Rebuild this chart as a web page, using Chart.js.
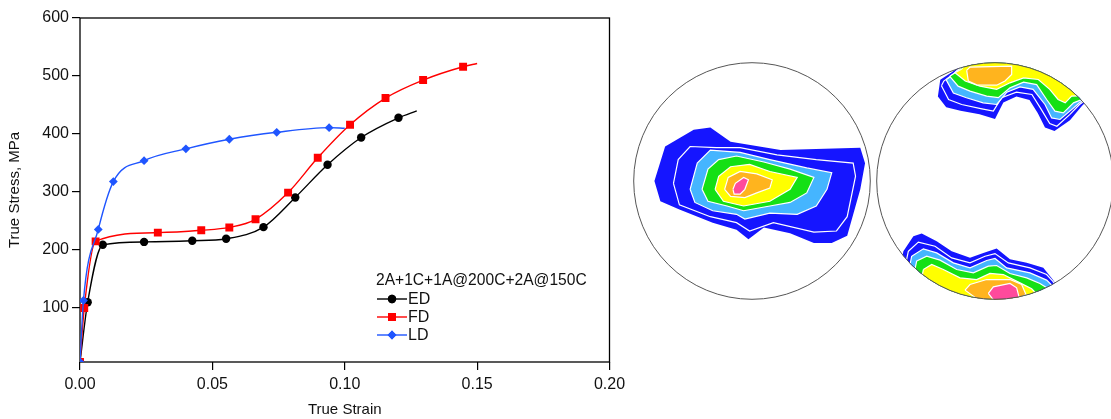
<!DOCTYPE html>
<html>
<head>
<meta charset="utf-8">
<script src="https://cdn.jsdelivr.net/npm/chart.js@4.4.0/dist/chart.umd.min.js"></script>
<style>
  body { margin: 0; width: 1111px; height: 419px; overflow: hidden; background: #fff; position: relative; }
  canvas { position: absolute; }
  #curve { left: 0; top: 0; }
  #pfA { left: 633px; top: 62px; }
  #pfB { left: 876px; top: 62px; }
</style>
</head>
<body>
<canvas id="curve" width="632" height="419"></canvas>
<canvas id="pfA" width="238" height="238"></canvas>
<canvas id="pfB" width="238" height="238"></canvas>
<script>
// stress-strain curves (last point of each = end of curve, no marker)
const edStrain = [0, 0.0029, 0.0086, 0.0242, 0.0424, 0.0552, 0.0693, 0.0813, 0.0935, 0.1062, 0.1203, 0.1272];
const edStress = [7, 110, 209, 214, 216, 219.5, 239.5, 290.7, 347, 394, 428, 440];
const fdStrain = [0, 0.0016, 0.0059, 0.0294, 0.0458, 0.0564, 0.0663, 0.0786, 0.0898, 0.102, 0.1154, 0.1296, 0.1447, 0.15];
const fdStress = [7, 100, 215, 230, 234, 239, 253, 299, 359, 416, 462, 493, 516, 521.5];
const ldStrain = [0, 0.0013, 0.0069, 0.0126, 0.0242, 0.040, 0.0564, 0.0743, 0.0941, 0.1];
const ldStress = [7, 113, 235.5, 318, 354, 374.5, 391, 403, 411, 410];

const seriesNames = ['ED', 'FD', 'LD'];
const legendTitle = '2A+1C+1A@200C+2A@150C';
const xTicks = [0, 0.05, 0.10, 0.15, 0.20];
const yTicks = [100, 200, 300, 400, 500, 600];

// pole figure contour levels, coordinates in % of the projection radius
const levelColors = ['#1515ff', '#1515ff', '#45b5ff', '#15e015', '#ffff00', '#ffb41e', '#ff4a9c'];

const pfA = [
  [[-82,0],[-73,29],[-49,43],[-35,45],[-18,33],[24,26],[91,28],[95,15],[91,-7],[80,-46],[67,-52],[52,-52],[32,-44],[10,-39],[-3,-49],[-13,-41],[-33,-35],[-61,-24],[-77,-17]],
  [[-66,-2],[-62,18],[-52,29],[-30,28],[-10,28],[21,22],[54,18],[85,15],[87,4],[80,-30],[71,-42],[52,-43],[18,-35],[-2,-42],[-13,-35],[-35,-30],[-61,-20]],
  [[-52,-7],[-46,15],[-35,26],[-10,24],[15,18],[46,11],[67,7],[63,-7],[54,-21],[38,-28],[15,-27],[-6,-32],[-13,-28],[-33,-25],[-48,-18]],
  [[-42,-7],[-37,10],[-28,18],[-13,21],[10,16],[32,10],[52,3],[46,-10],[32,-18],[15,-21],[-7,-25],[-21,-21],[-37,-17]],
  [[-31,-7],[-28,4],[-18,12],[-2,14],[15,8],[38,3],[32,-7],[15,-17],[-7,-21],[-24,-17]],
  [[-23,-7],[-20,3],[-10,8],[4,6],[17,1],[15,-6],[4,-10],[-6,-14],[-18,-13]],
  [[-16,-7],[-14,-2],[-7,3],[-3,1],[-6,-7],[-10,-11],[-15,-11]]
];

const pfBTop = [
  [[-48,71],[-41,62],[-29,59],[-13,56],[0,52],[7,66],[18,71],[29,68],[36,57],[42,45],[50,42],[63,51],[73,63],[82,72],[55,95],[15,105],[-21,103],[-36,91.5],[-46,85]],
  [[-45,80],[-39,68.5],[-28,64.3],[-11,60.6],[-1.4,58.7],[5.6,70],[18,74.6],[31,72.7],[39,60],[46,48.3],[52,46],[63,56],[71,64.3],[82,72],[55,95],[15,105],[-21,103],[-35,90],[-43,84]],
  [[-41,85],[-35,74],[-24,70],[-10,65.7],[1.4,64.3],[10,74.6],[21,79],[32,77],[42,64.3],[47.6,53],[54.6,51.7],[64.4,60],[71,65.7],[82,72],[55,95],[15,105],[-21,103],[-34,90.3]],
  [[-38,88],[-31,79.7],[-21,75.5],[-7,71.3],[2.8,70],[12.6,78.3],[24,83],[35,81],[43.4,68.5],[50.4,58.7],[57.4,57.3],[66,65.7],[82,72],[55,95],[15,105],[-21,103],[-32,92]],
  [[-33.6,91],[-25,84],[-12.6,79.7],[1.4,77],[12.6,82.5],[24,86.7],[36.4,85.3],[46,77],[53,68.5],[59,65.7],[64.4,71.3],[82,72],[55,95],[15,105],[-21,103],[-28,94]],
  [[-23.8,93],[-21,95.7],[14,96.5],[14,89.5],[8.4,84],[1.4,80.5],[-15.4,80.8],[-22.4,84]]
];

const pfBBottom = [
  [[-77,-59],[-68.6,-46.4],[-61.6,-44.1],[-49,-50.6],[-36.4,-59],[-21,-64.6],[-9.8,-60.4],[1.4,-56.7],[12.6,-65.8],[26.6,-68.8],[40.6,-73],[48.5,-82.8],[60,-100],[0,-110],[-82,-84]],
  [[-72.8,-59],[-64.4,-51.4],[-50.4,-54.8],[-36.4,-64.6],[-21,-68.8],[-8.4,-63.2],[0,-61],[11.2,-68.8],[29.4,-73],[43.4,-78.6],[48.5,-84.2],[60,-100],[0,-110],[-78,-84]],
  [[-70,-63.2],[-60.2,-57],[-49,-60.4],[-35,-68.8],[-21,-73],[-7,-66.8],[0,-65.1],[9.8,-73],[29.4,-77.2],[43.4,-83.3],[60,-100],[0,-110],[-75,-88]],
  [[-65.8,-67.2],[-57.4,-63.2],[-46.2,-66.5],[-32.2,-74.4],[-18.2,-77.2],[-5.6,-71.6],[1.4,-71],[12.6,-77.7],[26.6,-81.4],[37.8,-86.1],[60,-100],[0,-110],[-71,-92]],
  [[-60.2,-74.4],[-53.2,-70.2],[-43.4,-74.4],[-29.4,-81.4],[-15.4,-82.8],[-4.2,-77.7],[7,-78.6],[21,-85.6],[30.8,-90.6],[45,-105],[0,-110],[-65,-99]],
  [[-25.2,-91.7],[-21,-87],[-7,-82.8],[12.6,-82.8],[22.4,-87],[26,-95.4],[0,-110]],
  [[-5.6,-94.5],[-1.4,-88.9],[12.6,-86.1],[18.2,-89.8],[20.4,-98.2],[5,-108]]
];

const FONT = "'Liberation Sans', Arial, sans-serif";
const colors = ['#000000', '#ff0000', '#1f55ff'];
const styles = ['circle', 'rect', 'rectRot'];
const radii = [4.2, 5.6, 4.4];

function pts(xs, ys) {
  return xs.map((x, i) => ({ x: x, y: ys[i] }));
}

function series(i, xs, ys, order) {
  const n = xs.length;
  return {
    label: seriesNames[i],
    data: pts(xs, ys),
    showLine: true,
    borderColor: colors[i],
    backgroundColor: colors[i],
    borderWidth: 1.4,
    cubicInterpolationMode: 'monotone',
    pointStyle: styles[i],
    pointRadius: c => (c.dataIndex === n - 1 ? 0 : radii[i]),
    pointBorderWidth: 0,
    order: order
  };
}

const framePlugin = {
  id: 'frame',
  beforeDatasetsDraw(chart) {
    const a = chart.chartArea, ctx = chart.ctx;
    ctx.save();
    ctx.strokeStyle = '#000';
    ctx.lineWidth = 1.3;
    ctx.strokeRect(a.left, a.top, a.right - a.left, a.bottom - a.top);
    ctx.restore();
  }
};

const legendPlugin = {
  id: 'boxLegend',
  afterDraw(chart) {
    const ctx = chart.ctx;
    const x0 = 377, y0 = 281, step = 18;
    ctx.save();
    ctx.fillStyle = '#111';
    ctx.textBaseline = 'middle';
    ctx.font = '15.6px ' + FONT;
    ctx.fillText(legendTitle, x0 - 1, y0);
    ctx.font = '16px ' + FONT;
    seriesNames.forEach((name, i) => {
      const y = y0 + step * (i + 1);
      ctx.strokeStyle = colors[i];
      ctx.lineWidth = 1.4;
      ctx.beginPath();
      ctx.moveTo(x0, y);
      ctx.lineTo(x0 + 30, y);
      ctx.stroke();
      ctx.fillStyle = colors[i];
      Chart.helpers.drawPoint(ctx, { pointStyle: styles[i], radius: radii[i], borderWidth: 0, rotation: 0 }, x0 + 15, y);
      ctx.fill();
      ctx.fillStyle = '#111';
      ctx.fillText(name, x0 + 31, y + 0.5);
    });
    ctx.restore();
  }
};

new Chart(document.getElementById('curve'), {
  type: 'scatter',
  data: {
    datasets: [
      series(0, edStrain, edStress, 2),
      series(1, fdStrain, fdStress, 1),
      series(2, ldStrain, ldStress, 0)
    ]
  },
  options: {
    responsive: false,
    animation: false,
    events: [],
    layout: { padding: { top: 18, right: 22.5, left: 0, bottom: 0 } },
    plugins: { legend: { display: false }, tooltip: { enabled: false } },
    scales: {
      x: {
        min: 0, max: 0.2,
        afterBuildTicks: ax => { ax.ticks = xTicks.map(v => ({ value: v })); },
        afterFit: s => { s.height = 57; },
        border: { display: false },
        grid: { drawOnChartArea: false, tickLength: 8, tickColor: '#000', lineWidth: 1.2 },
        ticks: { color: '#111', padding: 5, maxRotation: 0, font: { family: FONT, size: 16 }, callback: v => v.toFixed(2) },
        title: { display: true, text: 'True Strain', color: '#111', padding: { top: 0, bottom: 0 }, font: { family: FONT, size: 15 } }
      },
      y: {
        min: 7, max: 600,
        afterBuildTicks: ax => { ax.ticks = yTicks.map(v => ({ value: v })); },
        afterFit: s => { s.width = 80; },
        border: { display: false },
        grid: { drawOnChartArea: false, tickLength: 8, tickColor: '#000', lineWidth: 1.2 },
        ticks: { color: '#111', padding: 3, font: { family: FONT, size: 16 } },
        title: { display: true, text: 'True Stress, MPa', color: '#111', padding: { top: 6, bottom: 0 }, font: { family: FONT, size: 15 } }
      }
    }
  },
  plugins: [framePlugin, legendPlugin]
});

// pole figures
const circlePlugin = {
  id: 'circle',
  beforeDatasetsDraw(chart) {
    const sx = chart.scales.x, sy = chart.scales.y, ctx = chart.ctx;
    const cx = sx.getPixelForValue(0), cy = sy.getPixelForValue(0);
    const r = sx.getPixelForValue(100) - cx;
    ctx.save();
    ctx.beginPath();
    ctx.arc(cx, cy, r - 0.5, 0, Math.PI * 2);
    ctx.clip();
  },
  afterDatasetsDraw(chart) {
    chart.ctx.restore();
  },
  afterDraw(chart) {
    const sx = chart.scales.x, sy = chart.scales.y, ctx = chart.ctx;
    const cx = sx.getPixelForValue(0), cy = sy.getPixelForValue(0);
    const r = sx.getPixelForValue(100) - cx;
    ctx.save();
    ctx.strokeStyle = '#555';
    ctx.lineWidth = 1;
    ctx.beginPath();
    ctx.arc(cx, cy, r - 0.7, 0, Math.PI * 2);
    ctx.stroke();
    ctx.restore();
  }
};

function contourSets(groups) {
  const sets = [];
  groups.forEach(levels => {
    levels.forEach((poly, k) => {
      const d = poly.map(p => ({ x: p[0], y: p[1] }));
      d.push({ x: poly[0][0], y: poly[0][1] });
      sets.push({
        data: d,
        showLine: true,
        fill: 'shape',
        tension: 0,
        pointRadius: 0,
        backgroundColor: levelColors[k],
        borderColor: k === 0 ? levelColors[k] : '#ffffff',
        borderWidth: k === 0 ? 0 : 1.2,
        order: 10 - k
      });
    });
  });
  return sets;
}

function poleChart(id, groups) {
  new Chart(document.getElementById(id), {
    type: 'scatter',
    data: { datasets: contourSets(groups) },
    options: {
      responsive: false,
      animation: false,
      events: [],
      layout: { padding: 0 },
      plugins: { legend: { display: false }, tooltip: { enabled: false } },
      scales: {
        x: { display: false, min: -100, max: 100 },
        y: { display: false, min: -100, max: 100 }
      }
    },
    plugins: [circlePlugin]
  });
}

poleChart('pfA', [pfA]);
poleChart('pfB', [pfBTop, pfBBottom]);
</script>
</body>
</html>
